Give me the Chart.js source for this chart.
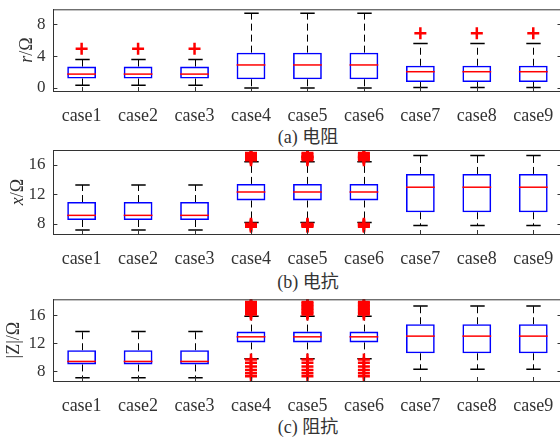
<!DOCTYPE html>
<html>
<head>
<meta charset="utf-8">
<script src="https://cdn.jsdelivr.net/npm/chart.js@4.4.0/dist/chart.umd.min.js"></script>
<style>
  body { margin: 0; width: 560px; height: 439px; overflow: hidden; background: #fff; position: relative; }
  canvas { position: absolute; left: 0; }
  .cap { position: absolute; left: 0; width: 616px; text-align: center; color: #333;
         font: 18px "Liberation Serif", "Noto Sans CJK SC", serif; line-height: 18px; }
</style>
</head>
<body>
<canvas id="chartR" width="570" height="124" style="top:0px"></canvas>
<div class="cap" style="top:128px">(a) 电阻</div>
<canvas id="chartX" width="570" height="127" style="top:140px"></canvas>
<div class="cap" style="top:273px">(b) 电抗</div>
<canvas id="chartZ" width="570" height="125" style="top:289px"></canvas>
<div class="cap" style="top:418px">(c) 阻抗</div>
<script>
// categories
const cases = ['case1', 'case2', 'case3', 'case4', 'case5', 'case6', 'case7', 'case8', 'case9'];

// (a) 电阻 r/Ω
const rTicks = [0, 2, 4, 6, 8];
const rLow  = [0.35, 0.35, 0.35, 0, 0, 0, 0.05, 0.05, 0.05];
const rQ1   = [1.2, 1.2, 1.2, 1.1, 1.1, 1.1, 0.75, 0.75, 0.75];
const rMed  = [1.75, 1.75, 1.75, 2.9, 2.9, 2.9, 2.05, 2.05, 2.05];
const rQ3   = [2.7, 2.7, 2.7, 4.45, 4.45, 4.45, 2.8, 2.8, 2.8];
const rHigh = [3.6, 3.6, 3.6, 9.4, 9.4, 9.4, 5.6, 5.6, 5.6];
const rOut  = [[4.95], [4.95], [4.95], [], [], [], [6.9], [6.9], [6.9]];

// (b) 电抗 x/Ω
const xTicks = [8, 10, 12, 14, 16, 18];
const xLow  = [7.15, 7.15, 7.15, 8.15, 8.15, 8.15, 7.75, 7.75, 7.75];
const xQ1   = [8.5, 8.5, 8.5, 11.15, 11.15, 11.15, 9.55, 9.55, 9.55];
const xMed  = [9.13, 9.13, 9.13, 12.3, 12.3, 12.3, 12.95, 12.95, 12.95];
const xQ3   = [10.94, 10.94, 10.94, 13.4, 13.4, 13.4, 14.75, 14.75, 14.75];
const xHigh = [13.25, 13.25, 13.25, 16.4, 16.4, 16.4, 17.25, 17.25, 17.25];
const xOutMid = [7.6, 7.7, 7.8, 7.9, 8.0, 16.6, 16.8, 16.9, 17.0, 17.1, 17.2, 17.4, 17.6];
const xOut  = [[], [], [], xOutMid, xOutMid, xOutMid, [], [], []];

// (c) 阻抗 |Z|/Ω
const zTicks = [8, 10, 12, 14, 16, 18];
const zLow  = [7.06, 7.06, 7.06, 9.75, 9.75, 9.75, 8.25, 8.25, 8.25];
const zQ1   = [8.95, 8.95, 8.95, 12.1, 12.1, 12.1, 10.55, 10.55, 10.55];
const zMed  = [9.38, 9.38, 9.38, 12.9, 12.9, 12.9, 13.0, 13.0, 13.0];
const zQ3   = [10.98, 10.98, 10.98, 13.65, 13.65, 13.65, 14.7, 14.7, 14.7];
const zHigh = [13.67, 13.67, 13.67, 15.85, 15.85, 15.85, 17.3, 17.3, 17.3];
const zOutMid = [9.65, 9.2, 8.65, 8.15, 7.7, 7.25,
                 16.1, 16.3, 16.5, 16.7, 16.9, 17.1, 17.3, 17.5, 17.7, 17.9];
const zOut  = [[], [], [], zOutMid, zOutMid, zOutMid, [], [], []];

Chart.defaults.font.family = '"Liberation Serif", "Times New Roman", serif';
Chart.defaults.font.size = 16;
Chart.defaults.color = '#333';

// whiskers, medians, frame and inward ticks (MATLAB style)
const boxPlugin = {
  id: 'boxplot',
  beforeDatasetsDraw(chart, args, o) {
    const { ctx, scales: { x, y } } = chart;
    const bars = chart.getDatasetMeta(0).data;
    ctx.save();
    ctx.strokeStyle = '#000';
    o.low.forEach((lo, i) => {
      const cx = Math.round(x.getPixelForValue(i)) + 0.5;
      const hw = bars[i].width / 4;
      ctx.lineWidth = 1;
      ctx.setLineDash([7, 4]);
      ctx.beginPath();
      ctx.moveTo(cx, y.getPixelForValue(o.q3[i]));
      ctx.lineTo(cx, y.getPixelForValue(o.high[i]));
      ctx.moveTo(cx, y.getPixelForValue(o.q1[i]));
      ctx.lineTo(cx, y.getPixelForValue(lo));
      ctx.stroke();
      ctx.setLineDash([]);
      ctx.lineWidth = 1.5;
      ctx.beginPath();
      [lo, o.high[i]].forEach(v => {
        const py = y.getPixelForValue(v);
        ctx.moveTo(cx - hw, py);
        ctx.lineTo(cx + hw, py);
      });
      ctx.stroke();
    });
    ctx.restore();
  },
  afterDatasetsDraw(chart, args, o) {
    const { ctx, scales: { x, y }, chartArea: a } = chart;
    const bars = chart.getDatasetMeta(0).data;
    ctx.save();
    ctx.strokeStyle = '#ff0000';
    ctx.lineWidth = 1.5;
    o.med.forEach((m, i) => {
      const cx = x.getPixelForValue(i);
      const hw = bars[i].width / 2;
      const py = y.getPixelForValue(m);
      ctx.beginPath();
      ctx.moveTo(cx - hw, py);
      ctx.lineTo(cx + hw, py);
      ctx.stroke();
    });
    // frame + inward ticks
    ctx.strokeStyle = '#333';
    ctx.lineWidth = 1;
    ctx.beginPath();
    ctx.moveTo(a.left, a.top + 0.5);
    ctx.lineTo(a.right, a.top + 0.5);
    ctx.lineTo(a.right, a.bottom);
    y.ticks.forEach(t => {
      const py = Math.round(y.getPixelForValue(t.value)) + 0.5;
      ctx.moveTo(a.left, py); ctx.lineTo(a.left + 4, py);
      ctx.moveTo(a.right - 4, py); ctx.lineTo(a.right, py);
    });
    cases.forEach((c, i) => {
      const px = Math.round(x.getPixelForValue(i)) + 0.5;
      ctx.moveTo(px, a.bottom); ctx.lineTo(px, a.bottom - 4);
    });
    ctx.stroke();
    // y-axis title with mixed italic
    ctx.fillStyle = '#333';
    ctx.translate(o.titleX, (a.top + a.bottom) / 2);
    ctx.rotate(-Math.PI / 2);
    ctx.textBaseline = 'middle';
    let w = 0;
    o.title.forEach(p => {
      ctx.font = p[1] + ' 18px "Liberation Serif", serif';
      w += ctx.measureText(p[0]).width;
    });
    let px = -w / 2;
    o.title.forEach(p => {
      ctx.font = p[1] + ' 18px "Liberation Serif", serif';
      ctx.fillText(p[0], px, 0);
      px += ctx.measureText(p[0]).width;
    });
    ctx.restore();
  }
};

function makeChart(id, ticks, low, q1, med, q3, high, out, yMin, yMax, title, titleX, padTop) {
  const outPts = [];
  out.forEach((list, i) => list.forEach(v => outPts.push({ x: cases[i], y: v })));
  return new Chart(document.getElementById(id), {
    type: 'bar',
    data: {
      labels: cases,
      datasets: [
        {
          data: q1.map((v, i) => [v, q3[i]]),
          backgroundColor: 'rgba(0,0,0,0)',
          borderColor: '#0000ff',
          borderWidth: 1.6,
          borderSkipped: false,
          barPercentage: 0.51,
          categoryPercentage: 1
        },
        {
          type: 'line',
          data: outPts,
          showLine: false,
          pointStyle: 'cross',
          pointRadius: 6,
          pointBorderWidth: 2.5,
          pointBorderColor: '#ff0000',
          borderColor: '#ff0000'
        }
      ]
    },
    options: {
      responsive: false,
      animation: false,
      layout: { padding: { top: padTop, right: 7.6, left: 0, bottom: 0 } },
      plugins: {
        legend: { display: false },
        tooltip: { enabled: false },
        boxplot: { low, q1, med, q3, high, title, titleX }
      },
      scales: {
        x: {
          grid: { display: false, drawTicks: false },
          border: { display: true, color: '#333', width: 1 },
          ticks: { padding: 14, color: '#333', font: { size: 18 } },
          afterFit: s => { s.height = 33; s.paddingLeft = 0; s.paddingRight = 0; }
        },
        y: {
          min: yMin,
          max: yMax,
          grid: { display: false, drawTicks: false },
          border: { display: true, color: '#333', width: 1 },
          ticks: {
            padding: 8,
            color: '#333',
            font: { size: 17 },
            callback: v => (Number.isInteger(v / 4) ? v : '')
          },
          afterBuildTicks: s => { s.ticks = ticks.map(v => ({ value: v })); },
          afterFit: s => { s.width = 53.4; s.paddingTop = 0; s.paddingBottom = 0; }
        }
      }
    },
    plugins: [boxPlugin]
  });
}

makeChart('chartR', rTicks, rLow, rQ1, rMed, rQ3, rHigh, rOut, -0.375, 9.9, [['r', 'italic'], ['/Ω', 'normal']], 27, 9.3);
makeChart('chartX', xTicks, xLow, xQ1, xMed, xQ3, xHigh, xOut, 6.6, 18.0, [['x', 'italic'], ['/Ω', 'normal']], 18.5, 10);
makeChart('chartZ', zTicks, zLow, zQ1, zMed, zQ3, zHigh, zOut, 6.58, 18.27, [['|Z|/Ω', 'normal']], 14.5, 10.3);
</script>
</body>
</html>
